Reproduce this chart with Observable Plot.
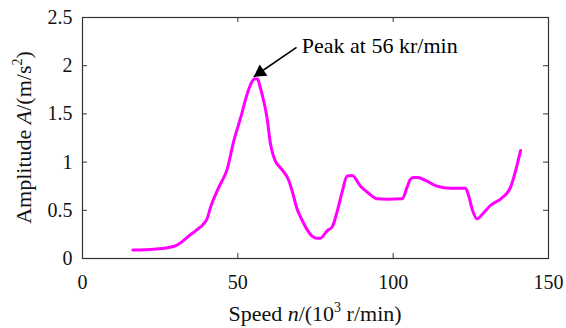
<!DOCTYPE html>
<html>
<head>
<meta charset="utf-8">
<script src="https://cdn.jsdelivr.net/npm/d3@7"></script>
<script src="https://cdn.jsdelivr.net/npm/@observablehq/plot@0.6"></script>
<style>
  html, body { margin: 0; padding: 0; background: #fff; }
  #chart svg { display: block; }
  #chart svg text, #chart svg tspan { font-family: 'Liberation Serif', 'Times New Roman', serif; }
</style>
</head>
<body>
<div id="chart"></div>
<script>
// Speed (10^3 r/min)
const speed = [16.2, 22.9, 27, 29.9, 31.5, 33.7, 36.5, 39.0, 40.2, 41.2, 43.9, 46.6, 48.7, 50.9, 53.0, 54.5, 55.4, 56.4, 57.0, 57.8, 59.4, 60.5, 61.3, 62.1, 64.0, 66.4, 67.5, 69.1, 70.5, 72.3, 74.0, 75.5, 76.5, 78.8, 80.4, 82.0, 83.5, 85.2, 86.8, 89.5, 92, 94.8, 98, 102.9, 104.5, 105.5, 106.6, 108, 110.4, 114.2, 118.4, 123.3, 124.3, 125.6, 127.0, 129, 131.3, 135.1, 137.8, 139.4, 141.0];
// Amplitude A (m/s^2)
const amplitude = [0.087, 0.097, 0.11, 0.13, 0.16, 0.22, 0.29, 0.36, 0.42, 0.53, 0.74, 0.93, 1.22, 1.46, 1.705, 1.83, 1.861, 1.861, 1.80, 1.705, 1.46, 1.19, 1.08, 1.01, 0.93, 0.81, 0.70, 0.51, 0.41, 0.30, 0.23, 0.21, 0.21, 0.29, 0.33, 0.49, 0.68, 0.855, 0.86, 0.75, 0.68, 0.62, 0.615, 0.62, 0.74, 0.82, 0.84, 0.84, 0.81, 0.75, 0.73, 0.73, 0.65, 0.495, 0.41, 0.47, 0.55, 0.63, 0.74, 0.91, 1.12];

const xTicks = [0, 50, 100, 150];
const yTicks = [0, 0.5, 1, 1.5, 2, 2.5];

// Annotation
const annotationText = ["Peak at 56 kr/min"];
const annotationPos = [70.6, 2.2];   // [speed, amplitude] of the text anchor
const arrowTail = [68.9, 2.19];
const arrowTip = [55.1, 1.885];

const data = speed.map((s, i) => ({speed: s, amp: amplitude[i]}));

const W = 566, H = 328;
const mL = 82, mR = 18, mT = 17, mB = 70;
const innerW = W - mL - mR, innerH = H - mT - mB;
const tick = 5;
const axisColor = "#333";
const serif = "'Liberation Serif', 'Times New Roman', serif";

const plot = Plot.plot({
  width: W,
  height: H,
  marginLeft: mL,
  marginRight: mR,
  marginTop: mT,
  marginBottom: mB,
  style: {fontFamily: serif, fontSize: "20px", background: "#fff", color: "#111"},
  x: {domain: [0, 150], label: null},
  y: {domain: [0, 2.5], label: null},
  marks: [
    Plot.axisX(xTicks, {tickSize: 0, tickPadding: 16, label: null, fontSize: 20, fontFamily: serif, fill: "#111"}),
    Plot.axisY(yTicks, {tickSize: 0, tickPadding: 10, label: null, fontSize: 20, fontFamily: serif, fill: "#111", tickFormat: d => String(d)}),
    // inward ticks (bottom, top, left, right)
    Plot.tickX(xTicks, {x: d => d, insetTop: innerH - tick, stroke: axisColor}),
    Plot.tickX(xTicks, {x: d => d, insetBottom: innerH - tick, stroke: axisColor}),
    Plot.tickY(yTicks, {y: d => d, insetRight: innerW - tick, stroke: axisColor}),
    Plot.tickY(yTicks, {y: d => d, insetLeft: innerW - tick, stroke: axisColor}),
    Plot.frame({stroke: axisColor, strokeWidth: 1.2}),
    Plot.line(data, {x: "speed", y: "amp", stroke: "#ff00ff", strokeWidth: 3, curve: "monotone-x", strokeLinejoin: "round", strokeLinecap: "round"}),
    // arrow shaft
    Plot.link([0], {x1: () => arrowTail[0], y1: () => arrowTail[1], x2: () => arrowTip[0], y2: () => arrowTip[1], stroke: "#000", strokeWidth: 1.6}),
    // arrow head (filled triangle)
    Plot.dot([0], {x: () => arrowTip[0], y: () => arrowTip[1], symbol: "triangle", r: 5.1, fill: "#000", stroke: "none", rotate: 235.5, dx: 6.6, dy: -4.5}),
    Plot.text(annotationText, {x: () => annotationPos[0], y: () => annotationPos[1], text: d => d, textAnchor: "start", lineAnchor: "middle", fontSize: 22, fontFamily: serif, fill: "#000"})
  ]
});

// Axis titles with italic symbols and superscripts
const svg = d3.select(plot);
svg.attr("font-family", serif);
const xl = svg.append("text")
  .attr("x", mL + innerW / 2)
  .attr("y", 321)
  .attr("text-anchor", "middle")
  .attr("font-size", 22)
  .attr("font-family", serif)
  .attr("fill", "#111");
xl.append("tspan").text("Speed ");
xl.append("tspan").attr("font-style", "italic").text("n");
xl.append("tspan").text("/(10");
xl.append("tspan").attr("font-size", 14).attr("dy", -9).text("3");
xl.append("tspan").attr("dy", 9).text(" r/min)");

const yl = svg.append("text")
  .attr("transform", `translate(31,${mT + innerH / 2}) rotate(-90)`)
  .attr("text-anchor", "middle")
  .attr("font-size", 22)
  .attr("font-family", serif)
  .attr("fill", "#111");
yl.append("tspan").text("Amplitude ");
yl.append("tspan").attr("font-style", "italic").text("A");
yl.append("tspan").text("/(m/s");
yl.append("tspan").attr("font-size", 14).attr("dy", -9).text("2");
yl.append("tspan").attr("dy", 9).text(")");

document.getElementById("chart").appendChild(plot);
</script>
</body>
</html>
